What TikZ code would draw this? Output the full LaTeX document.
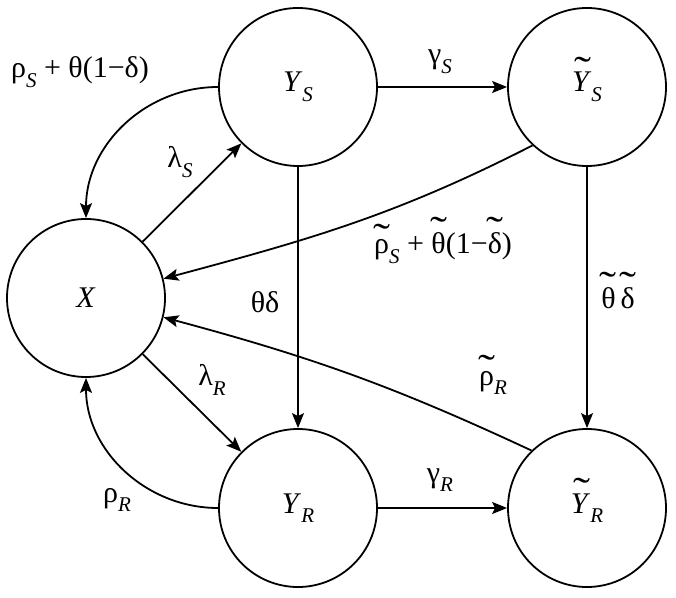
\documentclass[tikz,border=0pt]{standalone}
\usepackage{fontspec}
\setmainfont{LiberationSerif}[Extension=.ttf,UprightFont=*-Regular,ItalicFont=*-Italic,BoldFont=*-Bold]
\usepackage{graphicx}
\usetikzlibrary{arrows.meta}
\newcommand{\lsub}[1]{\raisebox{-0.32em}{\fontsize{21}{21}\selectfont\itshape #1}}
\newcommand{\tl}[1]{{\setbox0\hbox{#1}\ooalign{\copy0\cr\hidewidth\raisebox{\dimexpr\ht0-1ex+0.10em\relax}{\scalebox{1.7}[1.3]{\char"02DC}}\hidewidth\cr}}}
\newcommand{\tlY}[1]{{\setbox0\hbox{#1}\ooalign{\copy0\cr\hidewidth\raisebox{\dimexpr\ht0-1ex+0.10em\relax}{\scalebox{1.7}[1.3]{\char"02DC}}\kern-0.1em\hidewidth\cr}}}
\begin{document}
\begin{tikzpicture}[x=1pt,y=1pt,
  state/.style={circle,draw,line width=1.8pt,minimum size=158pt,inner sep=0pt,font=\rmfamily\fontsize{30}{34}\selectfont},
  lab/.style={font=\rmfamily\fontsize{30}{34}\selectfont,inner sep=0pt},
  conn/.style={line width=1.8pt,-{Stealth[length=15pt,width=12pt,inset=3pt]}}]
\useasboundingbox (0,0) rectangle (676,597);
\node[state] (X)   at (86,299)  {\textit{X}};
\node[state] (YS)  at (298,510) {\textit{Y}\lsub{S}};
\node[state] (tYS) at (587,510) {\tlY{\textit{Y}}\lsub{S}};
\node[state] (YR)  at (298,89)  {\textit{Y}\lsub{R}};
\node[state] (tYR) at (587,89)  {\tlY{\textit{Y}}\lsub{R}};

\draw[conn] (YS) -- (tYS);
\draw[conn] (YS) -- (YR);
\draw[conn] (tYS) -- (tYR);
\draw[conn] (YR) -- (tYR);
\draw[conn] (X) -- (YS);
\draw[conn] (X) -- (YR);
\draw[conn] (YS.west) to[out=180,in=90] (X.north);
\draw[conn] (YR.west) to[out=180,in=-90] (X.south);
\draw[conn] (tYS.227) to[out=207,in=15] (X.14);
\draw[conn] (tYR.134) to[out=155,in=-15] (X.-14);

\node[lab] (l1) at (80,525) {ρ\lsub{S} + θ(1−δ)};
\node[lab] (l2) at (180,435) {λ\lsub{S}};
\node[lab] (l3) at (440,535) {γ\lsub{S}};
\node[lab] (l4) at (440,117) {γ\lsub{R}};
\node[lab] (l5) at (265,295) {θδ};
\node[lab] (l6) at (443,349) {\tl{ρ}\lsub{S} + \tl{θ}(1−\tl{δ})};
\node[lab] (l7) at (618,299) {\tl{θ}\,\tl{δ}};
\node[lab] (l8) at (212,217) {λ\lsub{R}};
\node[lab] (l9) at (117,97) {ρ\lsub{R}};
\node[lab] (l10) at (493,214) {\tl{ρ}\lsub{R}};
\end{tikzpicture}
\end{document}
